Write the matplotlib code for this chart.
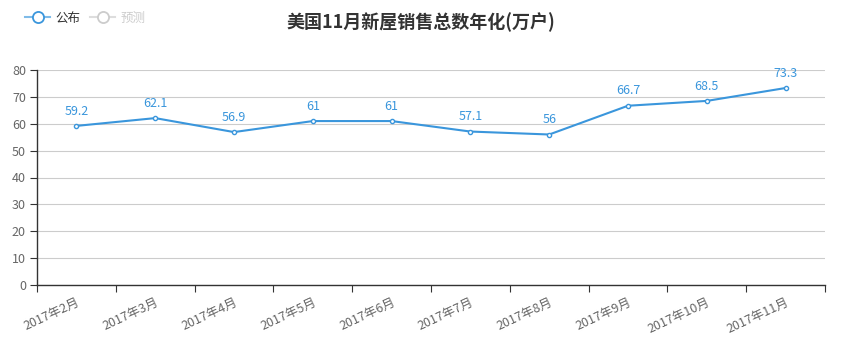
import matplotlib.pyplot as plt
from matplotlib.lines import Line2D

plt.rcParams['font.family'] = ['Noto Sans CJK SC', 'DejaVu Sans']

months = ['2017年2月', '2017年3月', '2017年4月', '2017年5月', '2017年6月',
          '2017年7月', '2017年8月', '2017年9月', '2017年10月', '2017年11月']
published = [59.2, 62.1, 56.9, 61, 61, 57.1, 56, 66.7, 68.5, 73.3]
labels = ['59.2', '62.1', '56.9', '61', '61', '57.1', '56', '66.7', '68.5', '73.3']

blue = '#3a96dc'
W, H = 842, 350
fig = plt.figure(figsize=(W / 100, H / 100), dpi=100)
ax = fig.add_axes([37 / W, 1 - 285 / H, (825 - 37) / W, (285 - 70) / H])

x = list(range(len(months)))
ax.plot(x, published, color=blue, lw=1.5, marker='o', ms=3,
        mfc='white', mec=blue, mew=1, zorder=3)
for xi, yi, t in zip(x, published, labels):
    ax.annotate(t, (xi, yi), xytext=(0, 6), textcoords='offset points',
                ha='center', va='bottom', color=blue, fontsize=9)

ax.set_xlim(-0.5, len(months) - 0.5)
ax.set_ylim(0, 80)
ax.set_yticks(range(0, 81, 10))
ax.set_xticks([i - 0.5 for i in range(len(months) + 1)])
ax.set_xticklabels([])
ax.set_xticks(x, minor=True)
ax.set_xticklabels(months, minor=True, rotation=25, ha='right',
                   rotation_mode='anchor')
ax.tick_params(axis='x', which='minor', length=0, pad=8, labelsize=9,
               labelcolor='#666666')
ax.tick_params(axis='x', which='major', length=5, color='#333333')
ax.tick_params(axis='y', length=5, color='#333333', labelsize=9,
               labelcolor='#666666', pad=3)
ax.grid(axis='y', color='#cccccc', lw=0.8)
ax.set_axisbelow(True)
for s in ['top', 'right']:
    ax.spines[s].set_visible(False)
for s in ['left', 'bottom']:
    ax.spines[s].set_color('#333333')
    ax.spines[s].set_linewidth(1)

fig.text(421 / W, 1 - 22 / H, '美国11月新屋销售总数年化(万户)', ha='center',
         va='center', fontsize=13, fontweight='bold', color='#333333')

handles = [Line2D([], [], color='#7fbbe8', lw=1.5, marker='o', ms=8,
                  mfc='white', mec=blue, mew=1.3),
           Line2D([], [], color='#dddddd', lw=1.5, marker='o', ms=8,
                  mfc='white', mec='#cccccc', mew=1.3)]
leg = fig.legend(handles, ['公布', '预测'], loc='center left',
                 bbox_to_anchor=(14 / W, 1 - 18 / H), ncol=2, frameon=False,
                 fontsize=9, handlelength=2, handletextpad=0.4,
                 columnspacing=0.8)
leg.get_texts()[0].set_color('#333333')
leg.get_texts()[1].set_color('#cccccc')

fig.savefig('out.png', dpi=100)
